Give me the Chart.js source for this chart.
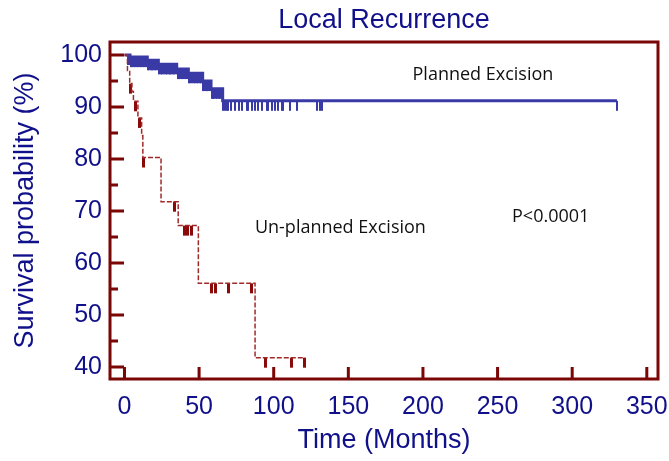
<!DOCTYPE html>
<html>
<head>
<meta charset="utf-8">
<script src="https://cdn.jsdelivr.net/npm/chart.js@4.4.0/dist/chart.umd.min.js"></script>
<style>
  html, body { margin: 0; padding: 0; background: #fff; }
</style>
</head>
<body>
<canvas id="km" width="669" height="461"></canvas>
<script>
// axis ticks
const xTicks = [0, 50, 100, 150, 200, 250, 300, 350];
const yTicks = [40, 50, 60, 70, 80, 90, 100];
const yMinorTicks = [45, 55, 65, 75, 85, 95];

// Planned Excision: step times (months) and survival (%)
const plannedTimes = [0, 3.7, 15.3, 22.7, 35, 42.8, 52.4, 58, 65.8, 330];
const plannedSurv = [100, 99.6, 99.0, 98.2, 97.3, 96.5, 95.0, 93.5, 91.2, 91.2];
const plannedCensored = [2.5, 3.4, 4.5, 5.3, 6.4, 7.2, 8.3, 9.1, 10.2, 11.4, 12.3, 13.1, 14.2, 15.6, 16.4,
  17.5, 18.3, 19.4, 20.6, 21.3, 22.2, 23.4, 24.5, 25.3, 26.4, 27.6, 28.3, 29.5, 30.4, 31.2, 32.5, 33.4,
  34.3, 35.6, 36.4, 37.5, 38.6, 39.3, 40.4, 41.5, 42.3, 43.4, 44.2, 45.5, 46.3, 47.4, 48.6, 49.3, 50.5,
  51.4, 52.7, 53.5, 54.4, 55.6, 56.3, 57.4, 58.6, 59.5, 60.3, 61.4, 62.2, 63.5, 64.3, 65.2, 66.3, 67.2,
  68.4, 69.5, 71.7, 74, 76.7, 78.5, 81.9, 83, 85.3, 87.5, 89.7, 92, 95.3, 96.4, 98.7, 100.9, 103.1,
  105.4, 106.5, 110.9, 115.4, 128.8, 130.9, 132.1, 330];

// Un-planned Excision
const unplannedTimes = [0, 2, 3.5, 5, 6, 9, 11.5, 12.3, 24.5, 36, 49.5, 87.5, 121];
const unplannedSurv = [100, 97, 94.5, 93, 91.1, 87.9, 84.5, 80.3, 71.8, 67.2, 56.1, 41.8, 41.8];
const unplannedCensored = [4, 7.7, 10.1, 13, 33.8, 40.5, 42.3, 45, 58.4, 61.3, 69.5, 85, 94.8, 111.6, 120.5];

const navy = '#10108a';
const frameRed = '#7a0606';
const blue = '#3a3aa6';
const red = '#a02a2a';

function survAt(times, surv, t) {
  let s = surv[0];
  for (let i = 0; i < times.length; i++) {
    if (times[i] <= t) s = surv[i];
  }
  return s;
}

// little vertical mark hanging below the point
function censorMark(color, w) {
  const c = document.createElement('canvas');
  c.width = w;
  c.height = 22;
  const g = c.getContext('2d');
  g.fillStyle = color;
  g.fillRect(0, 11, w, 10);
  return c;
}

const framePlugin = {
  id: 'frame',
  afterDatasetsDraw(chart) {
    const {ctx, chartArea: a, scales} = chart;
    ctx.save();
    ctx.strokeStyle = frameRed;
    ctx.lineWidth = 3;
    ctx.strokeRect(a.left, a.top, a.right - a.left, a.bottom - a.top);
    ctx.beginPath();
    yTicks.forEach(v => {
      const y = scales.y.getPixelForValue(v);
      ctx.moveTo(a.left, y); ctx.lineTo(a.left + 14, y);
    });
    yMinorTicks.forEach(v => {
      const y = scales.y.getPixelForValue(v);
      ctx.moveTo(a.left, y); ctx.lineTo(a.left + 8, y);
    });
    xTicks.forEach(v => {
      const x = scales.x.getPixelForValue(v);
      ctx.moveTo(x, a.bottom); ctx.lineTo(x, a.bottom - 12);
    });
    ctx.stroke();

    // annotations
    ctx.fillStyle = '#111';
    ctx.font = "18px 'Open Sans', sans-serif";
    ctx.textBaseline = 'middle';
    ctx.textAlign = 'left';
    const note = (txt, t, s) => ctx.fillText(txt, scales.x.getPixelForValue(t), scales.y.getPixelForValue(s));
    note('Planned Excision', 193, 96.2);
    note('Un-planned Excision', 87.4, 66.7);
    note('P<0.0001', 259.7, 68.8);
    ctx.restore();
  }
};

Chart.defaults.font.family = "'Liberation Sans', Arial, sans-serif";

new Chart(document.getElementById('km'), {
  type: 'line',
  data: {
    datasets: [
      {
        label: 'Un-planned Excision',
        data: unplannedTimes.map((t, i) => ({x: t, y: unplannedSurv[i]})),
        borderColor: red,
        borderWidth: 1.5,
        borderDash: [5, 2],
        stepped: true,
        pointRadius: 0,
        fill: false
      },
      {
        label: 'Un-planned censored',
        data: unplannedCensored.map(t => ({x: t, y: survAt(unplannedTimes, unplannedSurv, t)})),
        showLine: false,
        pointStyle: censorMark('#8a0a0a', 3),
        pointRadius: 1
      },
      {
        label: 'Planned Excision',
        data: plannedTimes.map((t, i) => ({x: t, y: plannedSurv[i]})),
        borderColor: blue,
        borderWidth: 3,
        stepped: true,
        pointRadius: 0,
        fill: false
      },
      {
        label: 'Planned censored',
        data: plannedCensored.map(t => ({x: t, y: survAt(plannedTimes, plannedSurv, t)})),
        showLine: false,
        pointStyle: censorMark(blue, 2),
        pointRadius: 1
      }
    ]
  },
  options: {
    responsive: false,
    animation: false,
    events: [],
    layout: { padding: { top: 0, right: 11, bottom: 0, left: 0 } },
    scales: {
      x: {
        type: 'linear',
        min: -9.7,
        max: 357.5,
        afterBuildTicks: (scale) => { scale.ticks = xTicks.map(v => ({value: v})); },
        afterFit: (scale) => { scale.height = 82; scale.paddingLeft = 0; scale.paddingRight = 0; },
        grid: { display: false, drawTicks: false },
        border: { display: false },
        ticks: { color: navy, font: { size: 25 }, padding: 13, maxRotation: 0 },
        title: { display: true, text: 'Time (Months)', color: navy, font: { size: 27 }, padding: { top: 0, bottom: 4 } }
      },
      y: {
        type: 'linear',
        min: 37.7,
        max: 102.5,
        afterBuildTicks: (scale) => { scale.ticks = yTicks.map(v => ({value: v})); },
        afterFit: (scale) => { scale.width = 110; scale.paddingTop = 0; scale.paddingBottom = 0; },
        grid: { display: false, drawTicks: false },
        border: { display: false },
        ticks: { color: navy, font: { size: 25 }, padding: 8 },
        title: { display: true, text: 'Survival probability (%)', color: navy, font: { size: 27 }, padding: { top: 9, bottom: 0 } }
      }
    },
    plugins: {
      legend: { display: false },
      tooltip: { enabled: false },
      title: {
        display: true,
        text: 'Local Recurrence',
        color: navy,
        fullSize: false,
        font: { size: 27, weight: 'normal' },
        padding: { top: 4.5, bottom: 5.1 }
      }
    }
  },
  plugins: [framePlugin]
});
</script>
</body>
</html>
